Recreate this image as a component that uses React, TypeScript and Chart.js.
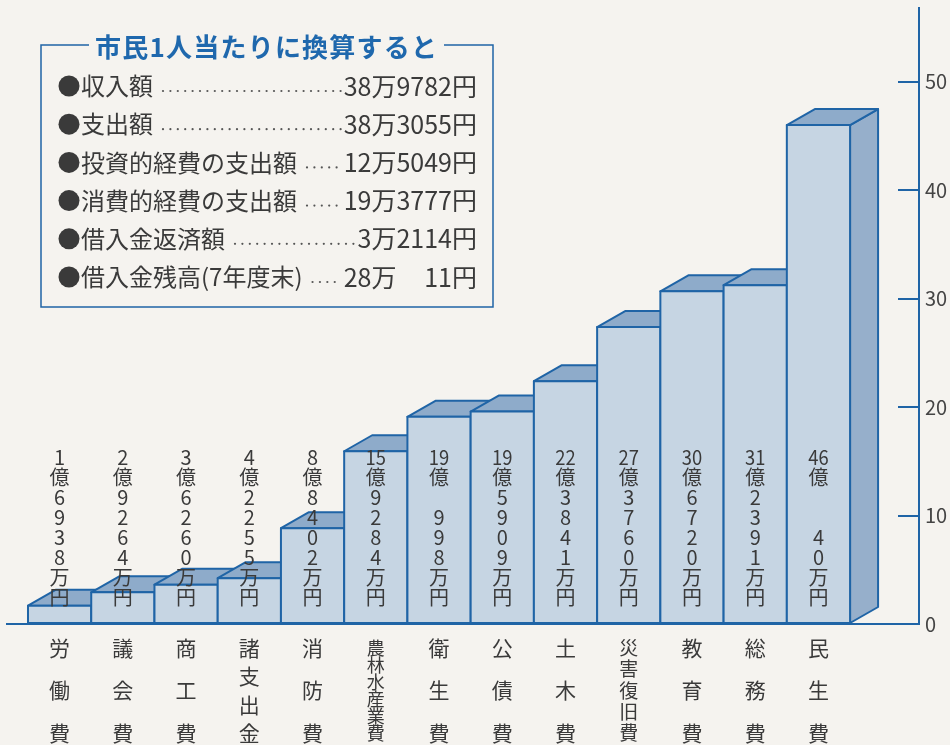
import React, { useEffect, useRef } from 'react';
import { Chart, registerables } from 'chart.js';
Chart.register(...registerables);

// ---- data ----
const categories = ['労働費', '議会費', '商工費', '諸支出金', '消防費', '農林水産業費', '衛生費', '公債費', '土木費', '災害復旧費', '教育費', '総務費', '民生費'];
// amounts in 万円
const amountsMan = [16938, 29264, 36260, 42255, 88402, 159284, 190998, 195909, 223841, 273760, 306720, 312391, 460040];
const yTicks = [0, 10, 20, 30, 40, 50];

const boxTitle = '市民1人当たりに換算すると';
const perCapitaLabels = ['収入額', '支出額', '投資的経費の支出額', '消費的経費の支出額', '借入金返済額', '借入金残高(7年度末)'];
const perCapitaYen = [389782, 383055, 125049, 193777, 32114, 280011];

// ---- styles ----
const FONT = '"Noto Sans CJK JP", "Noto Sans", sans-serif';
const BLUE = '#1f64a6';
const FRONT = '#c6d5e3';
const TOP = '#8eabca';
const SIDE = '#96afcb';
const BG = '#f5f3ef';
const TEXT = '#3a3a3a';
const DEPTH_X = 28;
const DEPTH_Y = -16;

function amountLines(v: number): string[] {
  const oku = Math.floor(v / 10000);
  const rest = String(v % 10000).padStart(4, '0');
  let started = false;
  const digits = rest.split('').map((c) => {
    if (c !== '0') started = true;
    return started ? c : '';
  });
  return [String(oku), '億', ...digits, '万', '円'];
}

const bars3d = {
  id: 'bars3d',
  afterDatasetsDraw(chart: any) {
    const ctx = chart.ctx as CanvasRenderingContext2D;
    const meta = chart.getDatasetMeta(0);
    ctx.save();
    ctx.lineWidth = 2;
    ctx.strokeStyle = BLUE;
    ctx.lineJoin = 'round';
    meta.data.forEach((el: any) => {
      const p = el.getProps(['x', 'y', 'base', 'width'], true);
      const l = p.x - p.width / 2;
      const r = p.x + p.width / 2;
      const t = p.y;
      const b = p.base;
      // side face
      ctx.beginPath();
      ctx.moveTo(r, t);
      ctx.lineTo(r + DEPTH_X, t + DEPTH_Y);
      ctx.lineTo(r + DEPTH_X, b + DEPTH_Y);
      ctx.lineTo(r, b);
      ctx.closePath();
      ctx.fillStyle = SIDE;
      ctx.fill();
      ctx.stroke();
      // top face
      ctx.beginPath();
      ctx.moveTo(l, t);
      ctx.lineTo(l + DEPTH_X, t + DEPTH_Y);
      ctx.lineTo(r + DEPTH_X, t + DEPTH_Y);
      ctx.lineTo(r, t);
      ctx.closePath();
      ctx.fillStyle = TOP;
      ctx.fill();
      ctx.stroke();
      // front face
      ctx.beginPath();
      ctx.rect(l, t, r - l, b - t);
      ctx.fillStyle = FRONT;
      ctx.fill();
      ctx.stroke();
    });
    ctx.restore();
  },
  afterDraw(chart: any) {
    const ctx = chart.ctx as CanvasRenderingContext2D;
    const xs = chart.scales.x;
    const ys = chart.scales.y;
    const base = ys.getPixelForValue(0);
    ctx.save();
    ctx.fillStyle = TEXT;
    ctx.textAlign = 'center';
    ctx.textBaseline = 'middle';
    // value labels inside bars
    amountsMan.forEach((v, i) => {
      const x = xs.getPixelForValue(i);
      const lines = amountLines(v);
      ctx.font = `20px ${FONT}`;
      lines.forEach((s, j) => {
        if (!s) return;
        const y = base - 27 - (lines.length - 1 - j) * 19.9;
        if (s.length > 1) {
          ctx.save();
          ctx.translate(x, y);
          ctx.scale(0.92, 1);
          ctx.fillText(s, 0, 0);
          ctx.restore();
        } else {
          ctx.fillText(s, x, y);
        }
      });
    });
    // category labels (vertical)
    categories.forEach((c, i) => {
      const x = xs.getPixelForValue(i);
      const chars = Array.from(c);
      const n = chars.length;
      const size = n <= 4 ? 21 : n === 5 ? 19 : 18;
      ctx.font = `${size}px ${FONT}`;
      const y0 = base + 24;
      const span = 85;
      const lh = span / (n - 1);
      chars.forEach((ch, j) => {
        ctx.fillText(ch, x, y0 + j * lh);
      });
    });

    // per-capita box
    const bx = 41, by = 45, bw = 452, bh = 262;
    ctx.strokeStyle = BLUE;
    ctx.lineWidth = 1.5;
    ctx.beginPath();
    ctx.moveTo(89, by);
    ctx.lineTo(bx, by);
    ctx.lineTo(bx, by + bh);
    ctx.lineTo(bx + bw, by + bh);
    ctx.lineTo(bx + bw, by);
    ctx.lineTo(444, by);
    ctx.stroke();

    ctx.font = `bold 26px ${FONT}`;
    ctx.fillStyle = '#1f68ad';
    ctx.textAlign = 'left';
    const target = 342;
    const w0 = ctx.measureText(boxTitle).width;
    const nChars = Array.from(boxTitle).length;
    const sp = (target - w0) / (nChars - 1);
    if (sp >= 0 && 'letterSpacing' in ctx) {
      (ctx as any).letterSpacing = `${sp}px`;
      ctx.fillText(boxTitle, 95, 47);
      (ctx as any).letterSpacing = '0px';
    } else {
      ctx.fillText(boxTitle, 95, 47, target);
    }

    const valRight = 477;
    perCapitaLabels.forEach((lab, k) => {
      const y = 86 + k * 38.2;
      ctx.fillStyle = TEXT;
      ctx.beginPath();
      ctx.arc(69, y, 10.5, 0, Math.PI * 2);
      ctx.fill();
      ctx.font = `24px ${FONT}`;
      ctx.textAlign = 'left';
      ctx.fillText(lab, 81, y);
      const labEnd = 81 + ctx.measureText(lab).width;

      const v = perCapitaYen[k];
      const man = Math.floor(v / 10000);
      const rest = String(v % 10000).padStart(4, '0');
      const restTrim = rest.replace(/^0+/, '');
      ctx.font = `25px ${FONT}`;
      ctx.textAlign = 'right';
      ctx.fillText(restTrim + '円', valRight, y);
      const fullRestW = ctx.measureText(rest + '円').width;
      const manStr = man + '万';
      ctx.fillText(manStr, valRight - fullRestW, y);
      const valStart = valRight - fullRestW - ctx.measureText(manStr).width;

      // dot leader
      ctx.fillStyle = '#555';
      for (let dx = labEnd + 10; dx < valStart - 2; dx += 7.4) {
        ctx.beginPath();
        ctx.arc(dx, y + 5, 1.1, 0, Math.PI * 2);
        ctx.fill();
      }
    });
    ctx.restore();
  },
};

export default function App() {
  const ref = useRef<HTMLCanvasElement | null>(null);
  useEffect(() => {
    if (!ref.current) return;
    Chart.defaults.font.family = FONT;
    const chart = new Chart(ref.current, {
      type: 'bar',
      data: {
        datasets: [
          {
            data: amountsMan.map((v, i) => ({ x: i, y: v / 10000 })),
            backgroundColor: 'rgba(0,0,0,0)',
            borderWidth: 0,
            categoryPercentage: 1,
            barPercentage: 1,
          } as any,
        ],
      },
      options: {
        animation: false,
        responsive: false,
        maintainAspectRatio: false,
        events: [],
        layout: { padding: { left: 7, top: 8, right: 0, bottom: 0 } },
        plugins: { legend: { display: false }, tooltip: { enabled: false }, title: { display: false } },
        scales: {
          x: {
            type: 'linear',
            min: -0.832,
            max: 13.59,
            offset: false,
            grid: { display: false },
            ticks: { display: false },
            border: { display: true, color: BLUE, width: 2 },
            afterBuildTicks: (s: any) => {
              s.ticks = categories.map((_, i) => ({ value: i }));
            },
            afterFit: (s: any) => {
              s.height = 121;
              s.paddingLeft = 0;
              s.paddingRight = 0;
            },
          },
          y: {
            position: 'right',
            min: 0,
            max: 56.8,
            afterBuildTicks: (s: any) => {
              s.ticks = yTicks.map((v) => ({ value: v }));
            },
            grid: { drawOnChartArea: false, drawTicks: true, tickLength: -21, color: BLUE, lineWidth: 2 },
            border: { display: true, color: BLUE, width: 2 },
            ticks: { padding: 27, color: '#444', font: { family: FONT, size: 20 } },
            afterFit: (s: any) => {
              s.width = 31;
              s.paddingTop = 0;
              s.paddingBottom = 0;
            },
          },
        },
      } as any,
      plugins: [bars3d],
    });
    return () => chart.destroy();
  }, []);
  return (
    <div style={{ position: 'fixed', left: 0, top: 0, width: 950, height: 745, background: BG }}>
      <canvas ref={ref} width={950} height={745} style={{ display: 'block' }} />
    </div>
  );
}
